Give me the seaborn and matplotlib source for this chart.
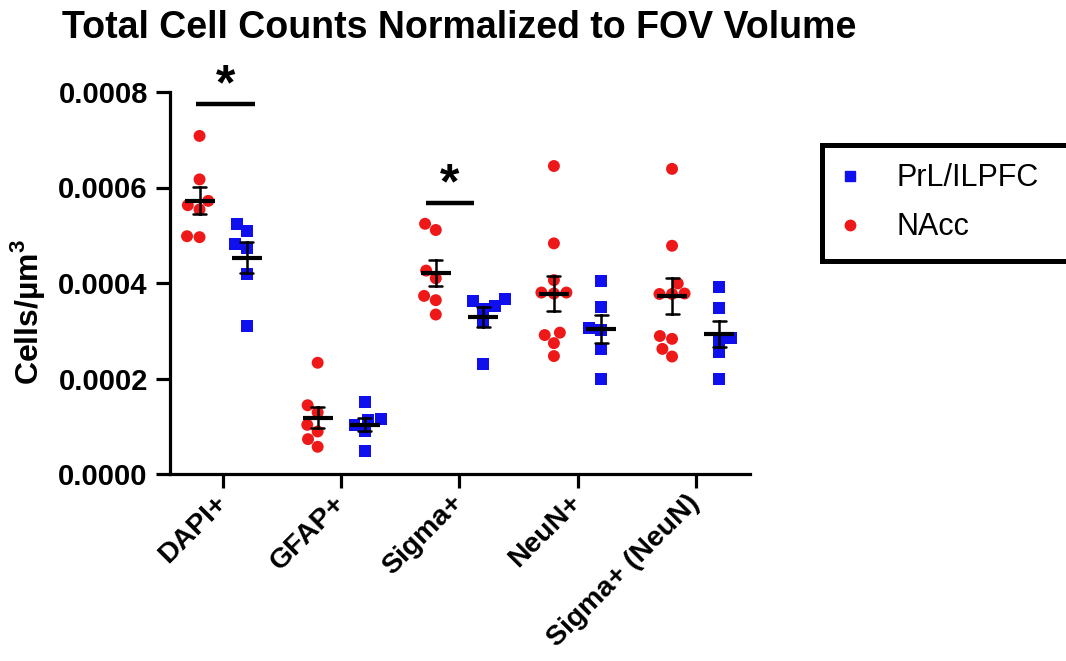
import numpy as np
import pandas as pd
import matplotlib
matplotlib.use("Agg")
import matplotlib.pyplot as plt
import seaborn as sns
from matplotlib.lines import Line2D

# ---------------- data ----------------
categories = ["DAPI+", "GFAP+", "Sigma+", "NeuN+", "Sigma+ (NeuN)"]
regions = ["NAcc", "PrL/ILPFC"]

nacc_dapi = [0.000708, 0.000617, 0.000572, 0.000563, 0.000554, 0.000498, 0.000496]
prl_dapi = [0.000524, 0.000509, 0.000482, 0.000473, 0.000418, 0.000310]
nacc_gfap = [0.000233, 0.000144, 0.000129, 0.000103, 0.000089, 0.000073, 0.000057]
prl_gfap = [0.000150, 0.000115, 0.000113, 0.000103, 0.000089, 0.000048]
nacc_sigma = [0.000524, 0.000511, 0.000426, 0.000410, 0.000373, 0.000364, 0.000334]
prl_sigma = [0.000366, 0.000362, 0.000352, 0.000345, 0.000320, 0.000231]
nacc_neun = [0.000645, 0.000483, 0.000406, 0.000380, 0.000378, 0.000380,
             0.000296, 0.000291, 0.000274, 0.000247]
prl_neun = [0.000404, 0.000349, 0.000305, 0.000302, 0.000261, 0.000199]
nacc_sigma_neun = [0.000639, 0.000478, 0.000399, 0.000377, 0.000378, 0.000377,
                   0.000289, 0.000283, 0.000262, 0.000246]
prl_sigma_neun = [0.000392, 0.000348, 0.000284, 0.000281, 0.000256, 0.000199]

nacc_values = [nacc_dapi, nacc_gfap, nacc_sigma, nacc_neun, nacc_sigma_neun]
prl_values = [prl_dapi, prl_gfap, prl_sigma, prl_neun, prl_sigma_neun]

y_ticks = [0.0, 0.0002, 0.0004, 0.0006, 0.0008]
y_tick_labels = ["0.0000", "0.0002", "0.0004", "0.0006", "0.0008"]

# significance annotations: (category, bar start offset, bar end offset, bar height, star height)
sig_marks = [("DAPI+", -0.23, 0.27, 0.000775, 0.000812),
             ("Sigma+", -0.28, 0.12, 0.000567, 0.000604)]

red = "#EE1818"
blue = "#1010EE"
palette = {"NAcc": red, "PrL/ILPFC": blue}

rows = []
for cat, nv, pv in zip(categories, nacc_values, prl_values):
    for v in nv:
        rows.append({"cat": cat, "region": "NAcc", "val": v})
    for v in pv:
        rows.append({"cat": cat, "region": "PrL/ILPFC", "val": v})
df = pd.DataFrame(rows)

# ---------------- style ----------------
sns.set_theme(style="ticks")
plt.rcParams["font.family"] = ["Liberation Sans", "DejaVu Sans"]
plt.rcParams["mathtext.fontset"] = "custom"
plt.rcParams["mathtext.rm"] = "Liberation Sans"
plt.rcParams["mathtext.bf"] = "Liberation Sans:bold"
for k in ["text.color", "axes.labelcolor", "xtick.color", "ytick.color",
          "axes.edgecolor"]:
    plt.rcParams[k] = "black"

W, H = 1066, 661
fig = plt.figure(figsize=(W / 100, H / 100), dpi=100)
ax = fig.add_axes([170 / W, 1 - 474 / H, 580 / W, 382 / H])

# points
for region, marker in [("NAcc", "o"), ("PrL/ILPFC", "s")]:
    sns.swarmplot(data=df[df.region == region], x="cat", y="val", hue="region",
                  order=categories, hue_order=regions, dodge=True,
                  palette=palette, marker=marker, size=8.6, linewidth=0,
                  legend=False, ax=ax, zorder=3)

# mean +/- SEM
sns.pointplot(data=df, x="cat", y="val", hue="region", order=categories,
              hue_order=regions, palette={r: "black" for r in regions},
              dodge=0.4, linestyle="none", marker="_", markersize=21,
              markeredgewidth=3, errorbar="se", capsize=0.11,
              err_kws={"linewidth": 1.8, "zorder": 6}, legend=False,
              ax=ax, zorder=6)

ax.set_xlim(-0.45, 4.46)
ax.set_ylim(0, 0.0008)
ax.set_yticks(y_ticks)
ax.set_yticklabels(y_tick_labels)
ax.set_xlabel("")
ax.set_ylabel("Cells/µm$^{\\mathbf{3}}$", fontsize=23, fontweight="bold")
ax.yaxis.set_label_coords(-0.212, 0.424)

for s in ["top", "right"]:
    ax.spines[s].set_visible(False)
for s in ["left", "bottom"]:
    ax.spines[s].set_linewidth(2.3)
    ax.spines[s].set_color("black")
ax.tick_params(axis="both", width=2.3, length=10, color="black")
ax.tick_params(axis="y", pad=6, labelsize=21)
ax.tick_params(axis="x", pad=8, labelsize=20.5)
for lab in ax.get_yticklabels():
    lab.set_fontweight("bold")
for lab in ax.get_xticklabels():
    lab.set_fontweight("bold")
    lab.set_rotation(45)
    lab.set_ha("right")
    lab.set_va("center")
    lab.set_rotation_mode("anchor")

# significance bars
for cat, x0, x1, yb, ys in sig_marks:
    i = categories.index(cat)
    ax.plot([i + x0, i + x1], [yb, yb], color="black", linewidth=3.2,
            solid_capstyle="butt", clip_on=False)
    ax.text(i + (x0 + x1) / 2, ys, "*", ha="center", va="center",
            fontsize=36, fontweight="bold", clip_on=False)

# title
fig.text(62 / W, 1 - 38.5 / H, "Total Cell Counts Normalized to FOV Volume",
         fontsize=27, fontweight="bold", ha="left", va="baseline")

# legend (box runs past the right edge of the figure, as in the original)
handles = [Line2D([], [], marker="s", color=blue, linestyle="none", markersize=7.5),
           Line2D([], [], marker="o", color=red, linestyle="none", markersize=7.5)]
leg = fig.legend(handles, ["PrL/ILPFC", "NAcc"], loc="upper left",
                 bbox_to_anchor=(822 / W, 1 - 257 / H, (1085 - 822) / W, 112 / H),
                 mode="expand", borderaxespad=0,
                 frameon=True, fancybox=False, edgecolor="black", framealpha=1,
                 fontsize=22, borderpad=0.6, handlelength=0.6,
                 handletextpad=1.25, labelspacing=0.62)
leg.get_frame().set_linewidth(3.6)

fig.savefig("out.png", dpi=100)
